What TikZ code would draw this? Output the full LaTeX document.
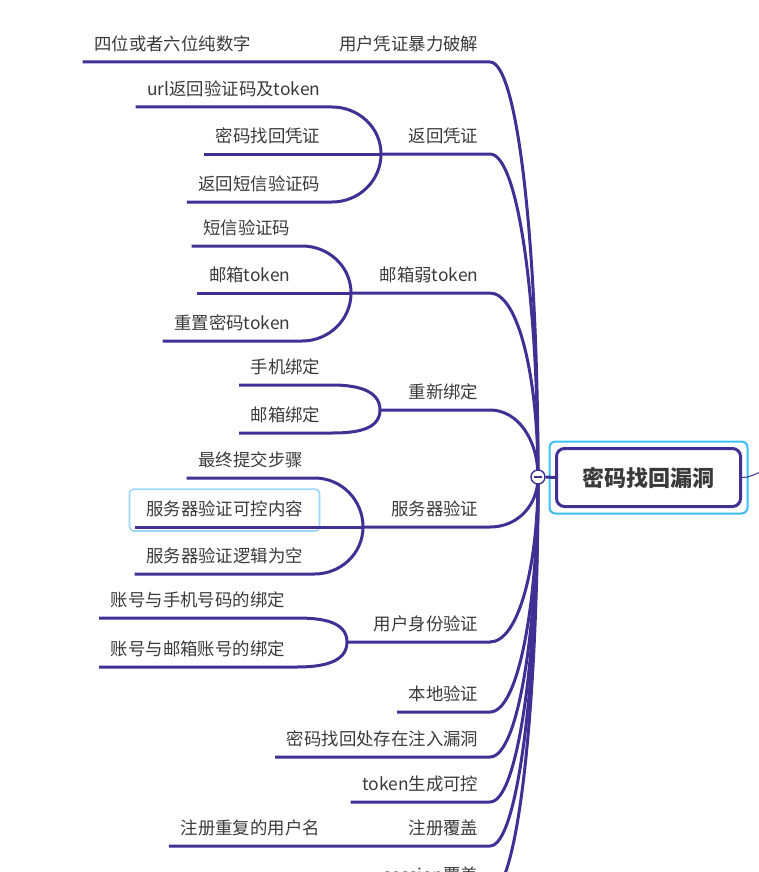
\documentclass[tikz,border=0pt]{standalone}
\usepackage{fontspec}
\newfontfamily\cjk{Noto Sans CJK SC}
\definecolor{branchline}{HTML}{403094}
\definecolor{inkgray}{HTML}{3A3A3A}
\definecolor{selectblue}{HTML}{3DBDF4}
\definecolor{hiliteblue}{HTML}{9CD7F8}
\tikzset{
  topic/.style={
    anchor=south east,
    font=\cjk\fontsize{17.4}{20}\selectfont,
    text=inkgray,
    inner xsep=11.5pt,
    inner ysep=0pt,
    text height=15pt,
    text depth=11.4pt
  },
  roottopic/.style={
    rectangle,
    rounded corners=8pt,
    draw=branchline,
    line width=3pt,
    minimum width=184pt,
    minimum height=58pt,
    font=\cjk\fontsize{22}{26}\bfseries,
    text=inkgray
  },
  hubdot/.style={circle, fill=white, draw=branchline, line width=1.4pt, minimum size=14pt, inner sep=0pt},
  branch/.style={draw=branchline, line width=3pt},
  trunk/.style={in=0, in distance=28pt},
  fork/.style={in=0},
  selring/.style={draw=selectblue, line width=2pt, rounded corners=6pt},
  hilite/.style={draw=hiliteblue, line width=1.6pt, rounded corners=4pt}
}

\begin{document}
\begin{tikzpicture}[x=1pt, y=1pt]
\useasboundingbox (0,0) rectangle (759,-872);

% Root topic.
\node[roottopic] (root) at (648.5,-477.5) {密码找回漏洞};
\draw[selring] ([shift={(-5.5pt,5.5pt)}]root.north west) rectangle ([shift={(5.5pt,-5.5pt)}]root.south east);
\coordinate (hubpt) at (538,-477);
\coordinate (offpage) at (764,-471);

% Main topics.
\node[topic] (brute) at (490,-62) {用户凭证暴力破解};
\node[topic] (creds) at (490,-154) {返回凭证};
\node[topic] (mailtok) at (490,-293) {邮箱弱token};
\node[topic] (rebind) at (490,-410) {重新绑定};
\node[topic] (srvchk) at (490,-527) {服务器验证};
\node[topic] (idchk) at (490,-642) {用户身份验证};
\node[topic] (localchk) at (490,-712) {本地验证};
\node[topic] (inject) at (490,-757) {密码找回处存在注入漏洞};
\node[topic] (tokgen) at (490,-802) {token生成可控};
\node[topic] (regover) at (490,-846) {注册覆盖};
\node[topic] (sessover) at (490,-893) {session覆盖};

% Fork points of the sub topics.
\coordinate (jcreds) at (381,-154);
\coordinate (jmail) at (351,-293);
\coordinate (jbind) at (380,-410);
\coordinate (jsrv) at (363,-527);
\coordinate (jid) at (347,-642);

% Sub topics.
\node[topic] (digits) at (262.5,-62) {四位或者六位纯数字};
\node[topic] (credsurl) at (332,-107) {url返回验证码及token};
\node[topic] (credspwd) at (332,-154) {密码找回凭证};
\node[topic] (credssms) at (332,-202) {返回短信验证码};
\node[topic] (mailsms) at (302,-246) {短信验证码};
\node[topic] (mailbox) at (302,-293) {邮箱token};
\node[topic] (mailreset) at (302,-341) {重置密码token};
\node[topic] (bindphone) at (332,-385) {手机绑定};
\node[topic] (bindmail) at (332,-433) {邮箱绑定};
\node[topic] (srvstep) at (314.5,-478) {最终提交步骤};
\node[topic] (srvctl) at (314.5,-527) {服务器验证可控内容};
\node[topic] (srvnull) at (314.5,-574) {服务器验证逻辑为空};
\node[topic] (idphone) at (296.5,-618) {账号与手机号码的绑定};
\node[topic] (idmail) at (296.5,-667) {账号与邮箱账号的绑定};
\node[topic] (regname) at (331.5,-846) {注册重复的用户名};

\draw[hilite] ([shift={(-5pt,11pt)}]srvctl.north west) rectangle ([shift={(5pt,-4pt)}]srvctl.south east);

% Trunk to main topics.
\draw[branch] (hubpt) to[trunk, out=90, out distance=228pt] (brute.south east) -- (brute.south west) -- (digits.south east) -- (digits.south west);
\draw[branch] (hubpt) to[trunk, out=90, out distance=178pt] (creds.south east) -- (jcreds);
\draw[branch] (hubpt) to[trunk, out=90, out distance=101pt] (mailtok.south east) -- (jmail);
\draw[branch] (hubpt) to[trunk, out=90, out distance=37pt] (rebind.south east) -- (jbind);
\draw[branch] (hubpt) to[trunk, out=270, out distance=28pt] (srvchk.south east) -- (jsrv);
\draw[branch] (hubpt) to[trunk, out=270, out distance=91pt] (idchk.south east) -- (jid);
\draw[branch] (hubpt) to[trunk, out=270, out distance=203pt] (regover.south east) -- (regover.south west) -- (regname.south east) -- (regname.south west);
\foreach \n/\d in {localchk/129, inject/154, tokgen/179, sessover/229} {
  \draw[branch] (hubpt) to[trunk, out=270, out distance=\d pt] (\n.south east) -- (\n.south west);
}

% Forks to sub topics.
\foreach \j/\up/\mid/\down in {jcreds/credsurl/credspwd/credssms, jmail/mailsms/mailbox/mailreset, jsrv/srvstep/srvctl/srvnull} {
  \draw[branch] (\j) to[fork, out=90] (\up.south east) -- (\up.south west);
  \draw[branch] (\j) -- (\mid.south east) -- (\mid.south west);
  \draw[branch] (\j) to[fork, out=270] (\down.south east) -- (\down.south west);
}
\foreach \j/\up/\down in {jbind/bindphone/bindmail, jid/idphone/idmail} {
  \draw[branch] (\j) to[fork, out=90] (\up.south east) -- (\up.south west);
  \draw[branch] (\j) to[fork, out=270] (\down.south east) -- (\down.south west);
}

% Collapse dot and root link.
\node[hubdot] (hub) at (hubpt) {};
\draw[branch] (hub.east) -- (root.west);
\draw[branchline, line width=1.2pt] ([xshift=3.5pt]hub.west) -- ([xshift=-3.5pt]hub.east);
\draw[branchline, line width=1pt] (root.east) to[out=0, in=195] (offpage);

\end{tikzpicture}
\end{document}
